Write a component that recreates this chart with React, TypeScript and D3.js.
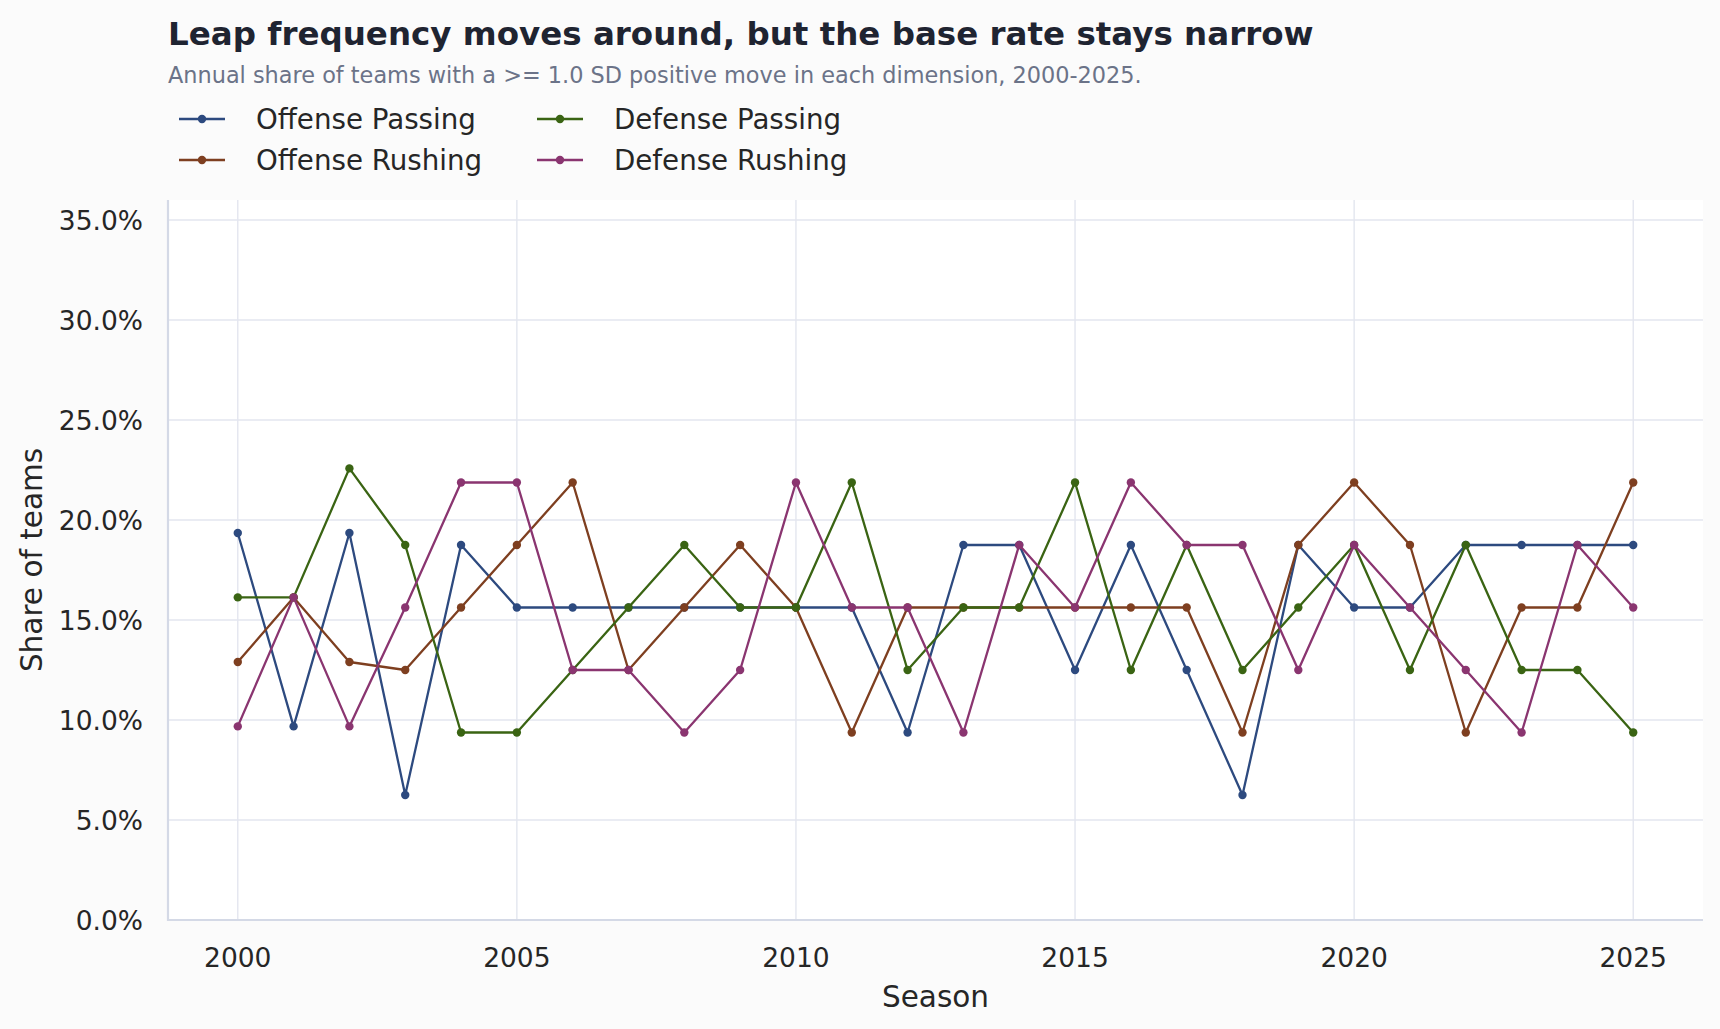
import React, { useEffect } from "react";
import * as d3 from "d3";

// Seasons on the x axis
const seasons: number[] = [
  2000, 2001, 2002, 2003, 2004, 2005, 2006, 2007, 2008, 2009, 2010, 2011, 2012,
  2013, 2014, 2015, 2016, 2017, 2018, 2019, 2020, 2021, 2022, 2023, 2024, 2025,
];

// Share of teams (%) with a >= 1.0 SD positive move, per dimension
const offensePassing: number[] = [
  19.35, 9.68, 19.35, 6.25, 18.75, 15.625, 15.625, 15.625, 15.625, 15.625, 15.625,
  15.625, 9.375, 18.75, 18.75, 12.5, 18.75, 12.5, 6.25, 18.75, 15.625, 15.625,
  18.75, 18.75, 18.75, 18.75,
];
const offenseRushing: number[] = [
  12.9, 16.13, 12.9, 12.5, 15.625, 18.75, 21.875, 12.5, 15.625, 18.75, 15.625,
  9.375, 15.625, 15.625, 15.625, 15.625, 15.625, 15.625, 9.375, 18.75, 21.875,
  18.75, 9.375, 15.625, 15.625, 21.875,
];
const defensePassing: number[] = [
  16.13, 16.13, 22.58, 18.75, 9.375, 9.375, 12.5, 15.625, 18.75, 15.625, 15.625,
  21.875, 12.5, 15.625, 15.625, 21.875, 12.5, 18.75, 12.5, 15.625, 18.75, 12.5,
  18.75, 12.5, 12.5, 9.375,
];
const defenseRushing: number[] = [
  9.68, 16.13, 9.68, 15.625, 21.875, 21.875, 12.5, 12.5, 9.375, 12.5, 21.875,
  15.625, 15.625, 9.375, 18.75, 15.625, 21.875, 18.75, 18.75, 12.5, 18.75, 15.625,
  12.5, 9.375, 18.75, 15.625,
];

const seriesNames: string[] = [
  "Offense Passing",
  "Offense Rushing",
  "Defense Passing",
  "Defense Rushing",
];
const seriesColors: string[] = ["#2d4a7f", "#7e3f20", "#3a6413", "#8a3570"];

const yTicks: number[] = [0, 5, 10, 15, 20, 25, 30, 35];
const xTicks: number[] = [2000, 2005, 2010, 2015, 2020, 2025];

const W = 1720;
const H = 1029;
const M = { left: 168, right: 1703, top: 200, bottom: 920 };
const FONT = "'DejaVu Sans', sans-serif";

export default function App() {
  useEffect(() => {
    document.body.style.margin = "0";
    document.body.style.background = "#fbfbfb";
  }, []);

  const x = d3.scaleLinear().domain([1998.75, 2026.25]).range([M.left, M.right]);
  const y = d3.scaleLinear().domain([0, 36]).range([M.bottom, M.top]);

  const allSeries = [offensePassing, offenseRushing, defensePassing, defenseRushing];
  const line = d3
    .line<number>()
    .x((_, i) => x(seasons[i]))
    .y((d) => y(d));

  // Legend laid out in two columns, filled column-first
  const legendItems = seriesNames.map((name, i) => ({
    name,
    color: seriesColors[i],
    col: Math.floor(i / 2),
    row: i % 2,
  }));
  const legendColX = [179, 537];
  const legendRowY = [119, 160];

  return (
    <svg width={W} height={H} style={{ display: "block", background: "#fbfbfb" }} fontFamily={FONT}>
      <rect x={0} y={0} width={W} height={H} fill="#fbfbfb" />
      <text x={168} y={45} fontSize={32.5} fontWeight="bold" fill="#1f2431">
        Leap frequency moves around, but the base rate stays narrow
      </text>
      <text x={168} y={83} fontSize={22.4} fill="#6b7388">
        Annual share of teams with a &gt;= 1.0 SD positive move in each dimension, 2000-2025.
      </text>

      {legendItems.map((it) => {
        const lx = legendColX[it.col];
        const ly = legendRowY[it.row];
        return (
          <g key={it.name}>
            <line x1={lx} x2={lx + 46} y1={ly} y2={ly} stroke={it.color} strokeWidth={2.3} />
            <circle cx={lx + 23} cy={ly} r={4.2} fill={it.color} />
            <text x={lx + 77} y={ly} dy="0.35em" fontSize={27.7} fill="#262626">
              {it.name}
            </text>
          </g>
        );
      })}

      <rect x={M.left} y={M.top} width={M.right - M.left} height={M.bottom - M.top} fill="#ffffff" />

      {/* grid */}
      {yTicks.map((t) => (
        <line key={"gy" + t} x1={M.left} x2={M.right} y1={y(t)} y2={y(t)} stroke="#e3e6ef" strokeWidth={1.4} />
      ))}
      {xTicks.map((t) => (
        <line key={"gx" + t} x1={x(t)} x2={x(t)} y1={M.top} y2={M.bottom} stroke="#e3e6ef" strokeWidth={1.4} />
      ))}

      {/* spines */}
      <line x1={M.left} x2={M.left} y1={M.top} y2={M.bottom + 1} stroke="#d4d9e6" strokeWidth={2.2} />
      <line x1={M.left - 1} x2={M.right} y1={M.bottom} y2={M.bottom} stroke="#d4d9e6" strokeWidth={2.2} />

      {/* tick labels */}
      {yTicks.map((t) => (
        <text key={"ty" + t} x={143} y={y(t)} dy="0.36em" textAnchor="end" fontSize={26.5} fill="#262626">
          {t.toFixed(1)}%
        </text>
      ))}
      {xTicks.map((t) => (
        <text key={"tx" + t} x={x(t)} y={967} textAnchor="middle" fontSize={26.5} fill="#262626">
          {t}
        </text>
      ))}

      <text x={(M.left + M.right) / 2} y={1007} textAnchor="middle" fontSize={29.5} fill="#262626">
        Season
      </text>
      <text
        transform={`translate(42, ${(M.top + M.bottom) / 2}) rotate(-90)`}
        textAnchor="middle"
        fontSize={29.5}
        fill="#262626"
      >
        Share of teams
      </text>

      {/* series */}
      {allSeries.map((vals, si) => (
        <g key={seriesNames[si]}>
          <path d={line(vals) || ""} fill="none" stroke={seriesColors[si]} strokeWidth={2.3} strokeLinejoin="round" />
          {vals.map((v, i) => (
            <circle key={i} cx={x(seasons[i])} cy={y(v)} r={4.2} fill={seriesColors[si]} />
          ))}
        </g>
      ))}
    </svg>
  );
}
